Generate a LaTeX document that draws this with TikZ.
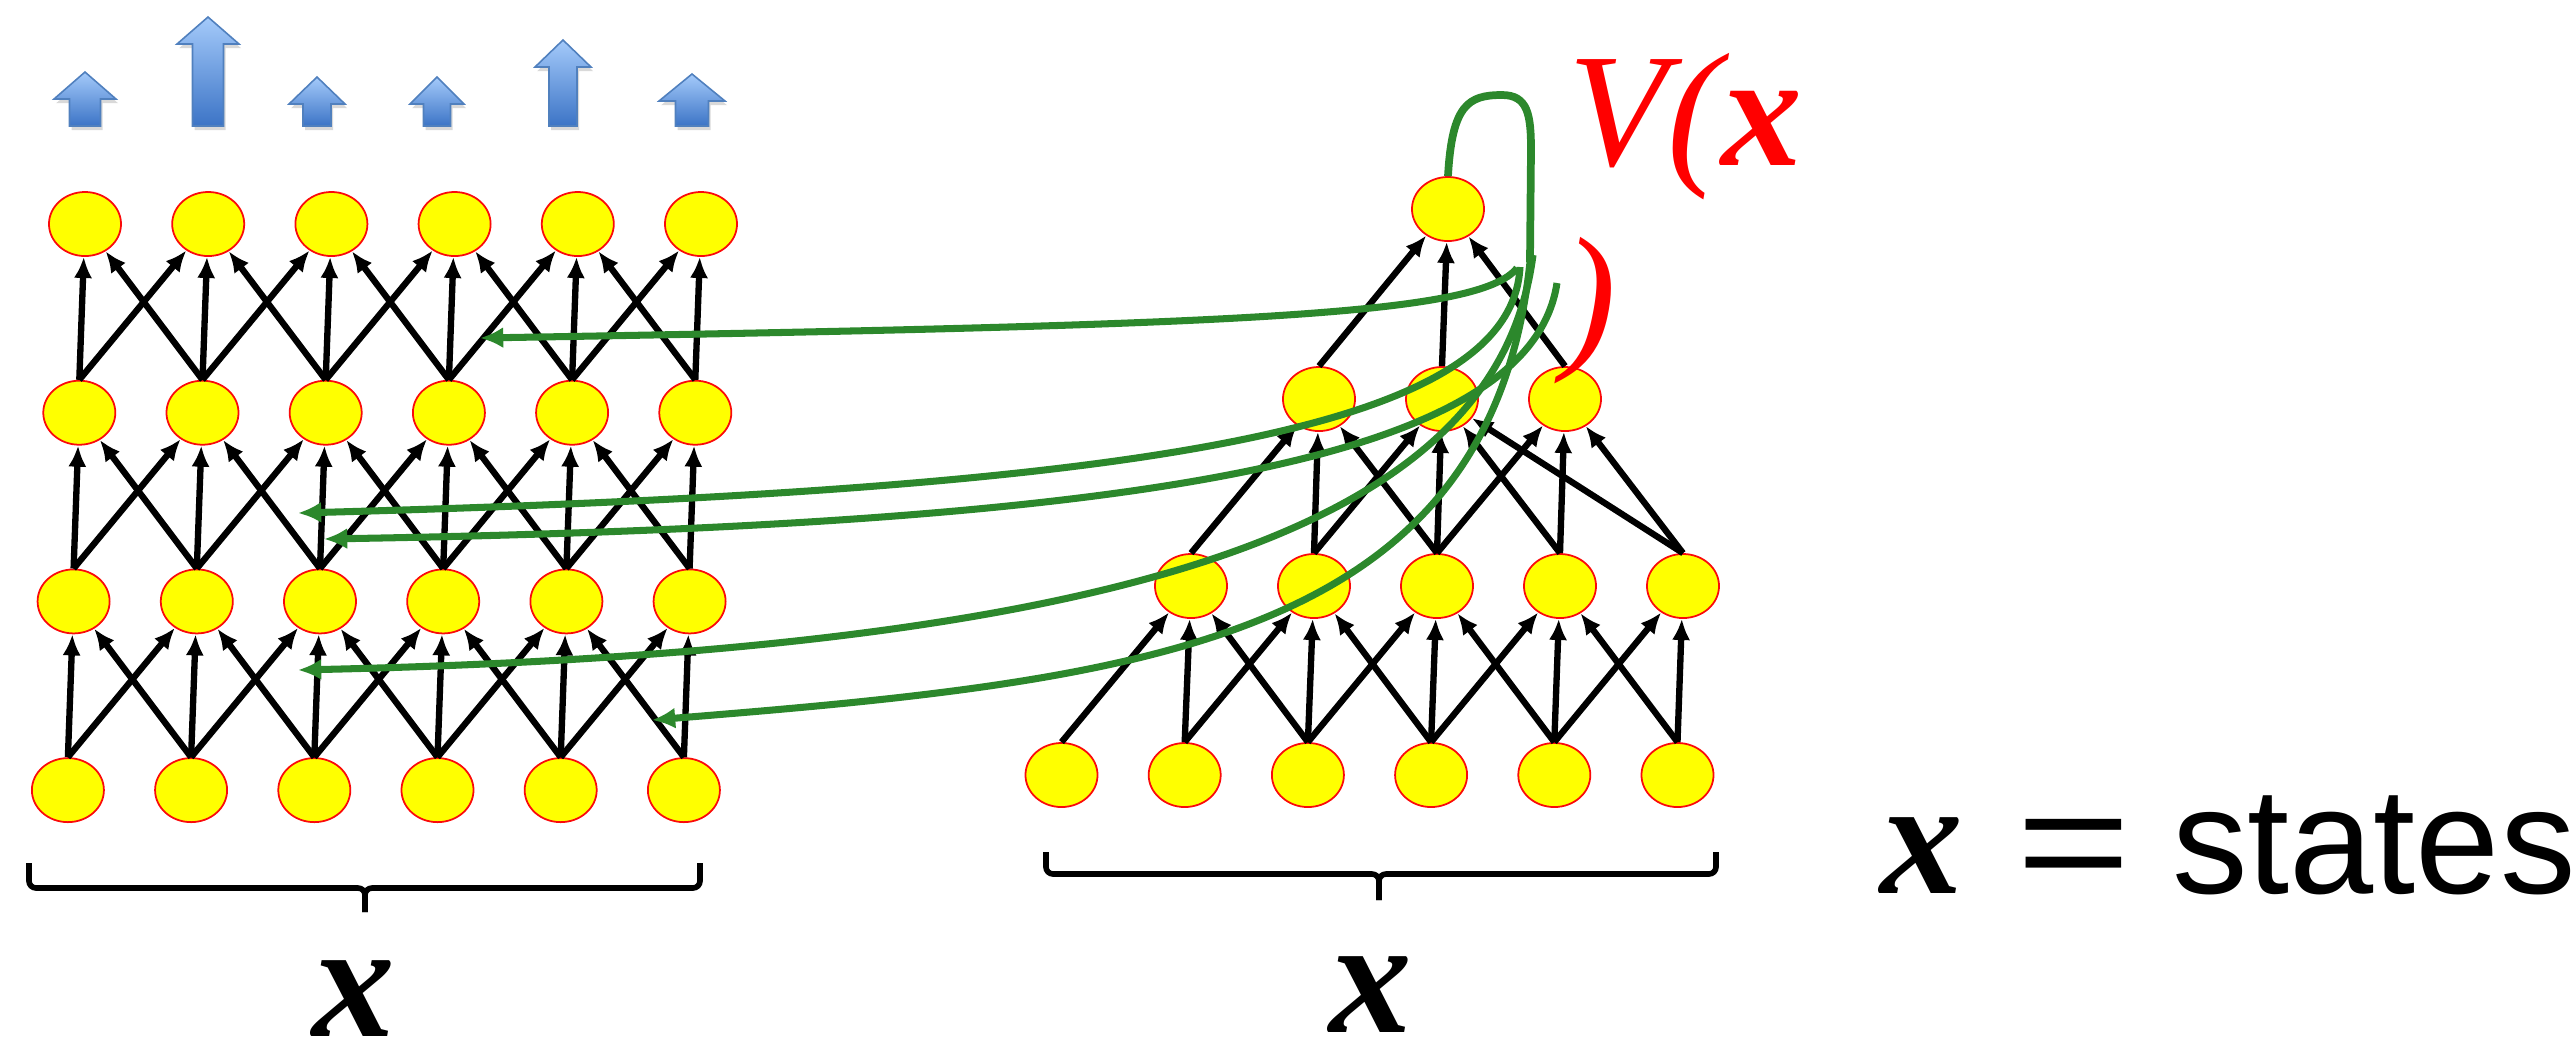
\documentclass[tikz,border=0pt]{standalone}
\usepackage{fontspec}
\usepackage{graphicx}
\setmainfont{Liberation Serif}
\setsansfont{Liberation Sans}
\usetikzlibrary{positioning,arrows.meta,shapes.geometric,shadows}
\definecolor{cellfill}{RGB}{255,255,0}
\definecolor{cellline}{RGB}{250,10,10}
\definecolor{critic}{RGB}{44,136,44}
\definecolor{gaintop}{RGB}{164,202,250}
\definecolor{gainbot}{RGB}{60,116,198}
\definecolor{gainline}{RGB}{80,128,190}
\tikzset{
  neuron/.style  ={ellipse, draw=cellline, fill=cellfill, line width=0.5pt,
                   minimum width=0.72cm, minimum height=0.64cm, inner sep=0pt},
  wire/.style    ={-{Latex[length=6pt,width=5.2pt]}, line width=1.8pt},
  backflow/.style={-{Latex[length=6.6pt,width=6pt]}, draw=critic, line width=2pt},
  loopflow/.style={draw=critic, line width=2.2pt},
  reward/.style  ={draw=gainline, line width=0.45pt, top color=gaintop, bottom color=gainbot,
                   drop shadow={opacity=0.3,shadow xshift=0.6pt,shadow yshift=-1.2pt}},
  brc/.style     ={line width=1.6pt, rounded corners=2pt},
  bigx/.style    ={font=\fontsize{47}{50}\selectfont\bfseries\itshape, inner sep=0pt},
  vlab/.style    ={text=red, inner sep=0pt, font=\fontsize{46}{50}\selectfont\itshape}
}

\begin{document}
\begin{tikzpicture}[x=0.01cm,y=-0.01cm]
  \useasboundingbox (0,0) rectangle (2574,1050);

  % rewards on top of the policy net
  \foreach \ax/\at/\aw in {85/72/31, 208/17/31, 317/77/28, 437/77/27, 563/40/28, 692/74/33}
    \draw[reward] ({\ax-\aw/2},126) -- ({\ax-\aw/2},{\at+27}) -- ({\ax-\aw},{\at+27})
      -- (\ax,\at) -- ({\ax+\aw},{\at+27}) -- ({\ax+\aw/2},{\at+27}) -- ({\ax+\aw/2},126) -- cycle;

  % left net (policy)
  \foreach \r in {1,...,4}
    \foreach \c in {1,...,6}
      \node[neuron] (L\r\c) at ({85-5.7*(\r-1)+123.2*(\c-1)},{224+188.7*(\r-1)}) {};

  % right net (value)
  \node[neuron] (R11) at (1448,209) {};
  \foreach \c/\x in {1/1319,2/1442,3/1565}
    \node[neuron] (R2\c) at (\x,399) {};
  \foreach \c in {1,...,5}
    \node[neuron] (R3\c) at ({1191+123*(\c-1)},586) {};
  \foreach \c in {1,...,6}
    \node[neuron] (R4\c) at ({1061.5+123.2*(\c-1)},775) {};

  \foreach \r in {2,3,4}{
    \pgfmathtruncatemacro\u{\r-1}
    \foreach \c in {1,...,6}
      \foreach \d in {-1,0,1}{
        \pgfmathtruncatemacro\k{\c+\d}
        \ifnum\k>0 \ifnum\k<7 \draw[wire] (L\r\c.north) -- (L\u\k); \fi\fi
      }}
  \foreach \c in {1,...,6}
    \foreach \d in {-2,-1,0}{
      \pgfmathtruncatemacro\k{\c+\d}
      \ifnum\k>0 \ifnum\k<6 \draw[wire] (R4\c.north) -- (R3\k); \fi\fi
    }
  \foreach \a/\b in {1/1,2/1,2/2,3/1,3/2,3/3,4/2,4/3,5/2,5/3}
    \draw[wire] (R3\a.north) -- (R2\b);
  \foreach \a in {1,2,3}
    \draw[wire] (R2\a.north) -- (R11);

  % gradient of V fed back into the policy net
  \coordinate (sa) at (1517,268); \coordinate (ta) at (480,338);
  \coordinate (sb) at (1520,267); \coordinate (tb) at (298,513);
  \coordinate (sc) at (1557,283); \coordinate (tc) at (324,539);
  \coordinate (sd) at (1533,255); \coordinate (td) at (298,670);
  \coordinate (se) at (1530,262); \coordinate (te) at (652,720);
  \draw[loopflow] (R11.north) .. controls (1452,105) and (1468,95) .. (1502,95)
        .. controls (1528,95) and (1531,115) .. (1531,150) -- (se);
  \draw[backflow] (sa) .. controls (1480,315) and (1250,325) .. (ta);
  \draw[backflow] (sb) .. controls (1512,430) and (1150,490) .. (tb);
  \draw[backflow] (sc) .. controls (1530,460) and (1150,525) .. (tc);
  \draw[backflow] (sd) .. controls (1500,510) and (1180,650) .. (td);
  \draw[backflow] (se) .. controls (1490,640) and (1150,680) .. (te);

  \node[vlab, anchor=base west] (vval) at (1568,165) {V({\bfseries x}};
  \node[vlab, anchor=base west] (vend) at (1562,349) {)};

  % braces and inputs
  \draw[brc] (29,863) -- (29,888) -- (365,888) -- (365,912);
  \draw[brc] (365,912) -- (365,888) -- (700,888) -- (700,863);
  \draw[brc] (1046,852) -- (1046,874) -- (1379,874) -- (1379,900);
  \draw[brc] (1379,900) -- (1379,874) -- (1716,874) -- (1716,852);
  \node[bigx, anchor=base] (xin) at (354,1036) {x};
  \node[bigx, anchor=base] (xcr) at (1371,1032) {x};
  \node[anchor=base west, inner sep=0pt] (xdef) at (1880,893)
    {\fontsize{43}{50}\selectfont\sffamily{\fontsize{47}{50}\selectfont\rmfamily\bfseries\itshape x}\hspace{0.53cm}\scalebox{1.3}[1]{=}\hspace{0.41cm}states};
\end{tikzpicture}
\end{document}
